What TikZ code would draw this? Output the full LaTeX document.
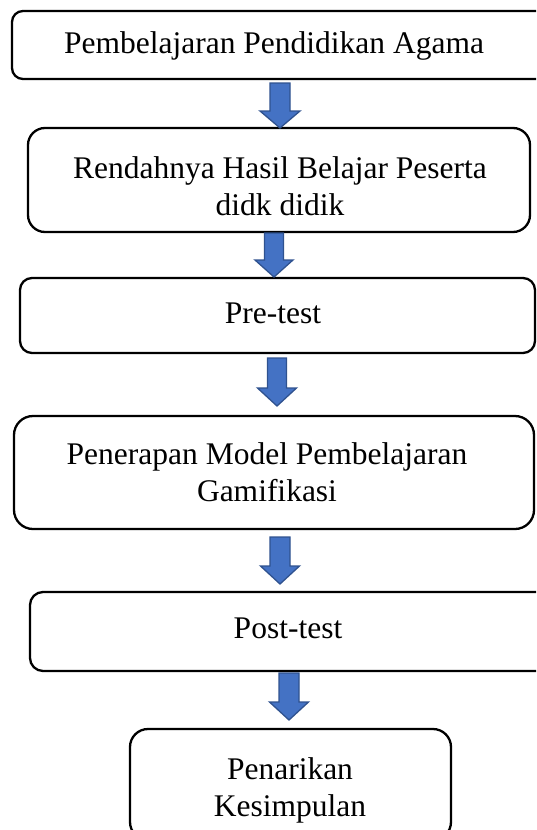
\documentclass[tikz,border=0pt]{standalone}
\usepackage{fontspec}
\setmainfont{Liberation Serif}
\definecolor{arrowfill}{HTML}{4472C4}
\definecolor{arrowline}{HTML}{2F528F}
% block arrow: #1 centre x, #2 top y, #3 head base y, #4 tip y, #5 shaft half width, #6 head half width
\newcommand{\blockarrowdown}[6]{%
  \draw[downarrow] (#1-#5,#2) -- (#1+#5,#2) -- (#1+#5,#3) -- (#1+#6,#3) -- (#1,#4)
    -- (#1-#6,#3) -- (#1-#5,#3) -- cycle;}
\begin{document}
\begin{tikzpicture}[x=1pt,y=-1pt,
  flowbox/.style={draw=black, line width=2.3pt, inner sep=0pt},
  flowtext/.style={font=\fontsize{31.5}{37}\selectfont, align=center, inner sep=0pt},
  downarrow/.style={draw=arrowline, fill=arrowfill, line width=1.3pt, line join=miter}]
\useasboundingbox (0,0) rectangle (536,830);
\begin{scope}
\clip (0,0) rectangle (536,830);
% boxes
\draw[flowbox, rounded corners=11pt] (12,11) rectangle (550,79);
\node[inner sep=0pt, minimum width=538pt, minimum height=68pt] (b1) at (281,45) {};
\draw[flowbox, rounded corners=17pt] (28,128) rectangle (530,232);
\node[inner sep=0pt, minimum width=502pt, minimum height=104pt] (b2) at (279,180) {};
\draw[flowbox, rounded corners=12pt] (20,278) rectangle (535,353);
\node[inner sep=0pt, minimum width=515pt, minimum height=75pt] (b3) at (277.5,315.5) {};
\draw[flowbox, rounded corners=19pt] (14,416) rectangle (534,529);
\node[inner sep=0pt, minimum width=520pt, minimum height=113pt] (b4) at (274,472.5) {};
\draw[flowbox, rounded corners=13pt] (30,592) rectangle (552,671);
\node[inner sep=0pt, minimum width=522pt, minimum height=79pt] (b5) at (291,631.5) {};
\draw[flowbox, rounded corners=18pt] (130,729) rectangle (451,840);
\node[inner sep=0pt, minimum width=321pt, minimum height=111pt] (b6) at (290.5,784.5) {};
\end{scope}
% texts
\node[flowtext] (t1) at (274,46) {Pembelajaran Pendidikan Agama};
\node[flowtext] (t2) at (280,186) {Rendahnya Hasil Belajar Peserta\\didk didik};
\node[flowtext] (t3) at (273,313) {Pre-test};
\node[flowtext] (t4) at (267,472) {Penerapan Model Pembelajaran\\Gamifikasi};
\node[flowtext] (t5) at (288,628) {Post-test};
\node[flowtext] (t6) at (290,790) {Penarikan\\Kesimpulan};
% arrows
\blockarrowdown{280}{83}{111}{128}{10}{20}
\blockarrowdown{274}{233}{260}{277}{9.5}{19}
\blockarrowdown{277}{358}{388}{406}{9.5}{19.5}
\blockarrowdown{280}{537}{566}{584}{10}{19.5}
\blockarrowdown{289}{673}{702}{720}{10}{19.5}
\end{tikzpicture}
\end{document}
